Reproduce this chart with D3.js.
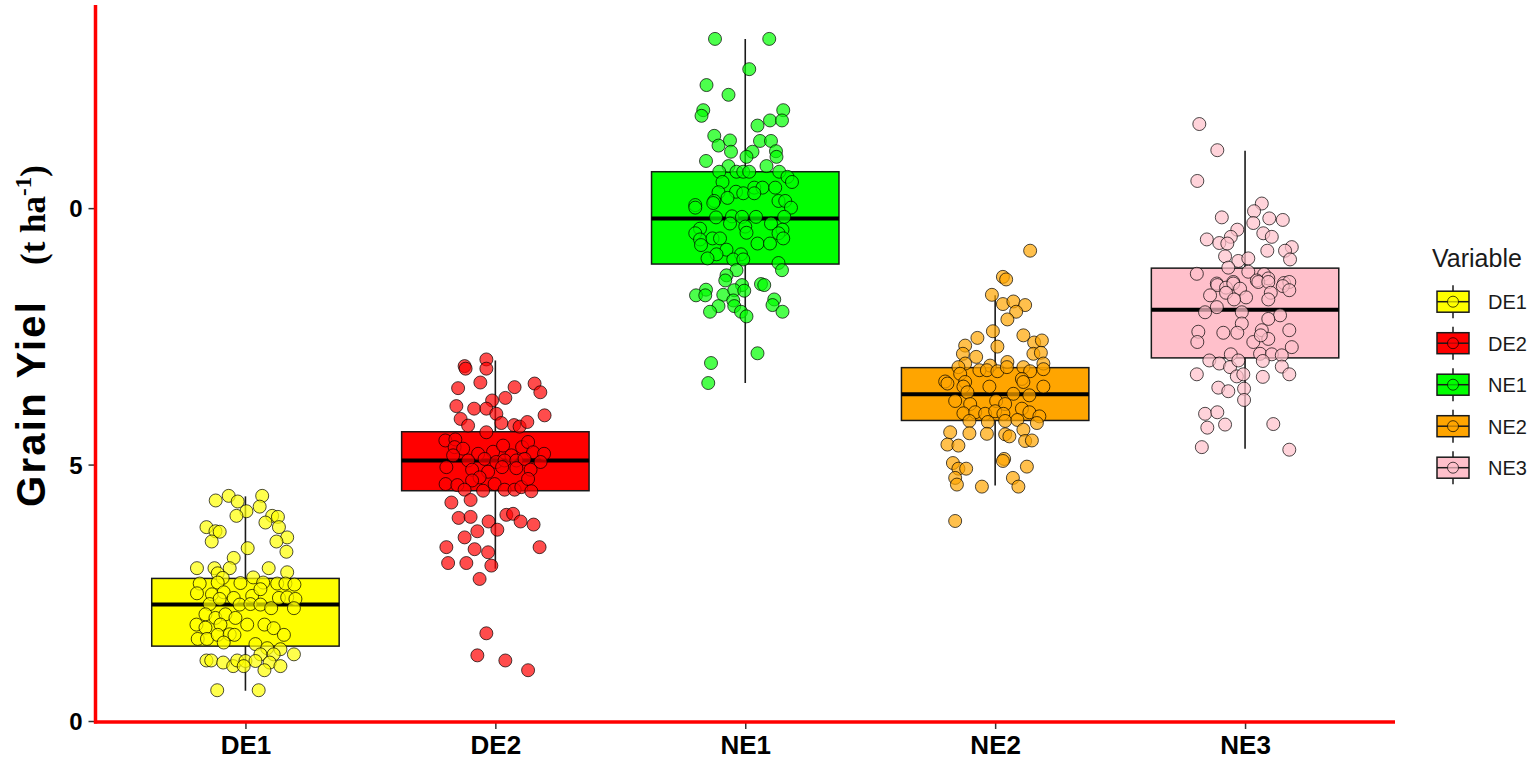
<!DOCTYPE html>
<html>
<head>
<meta charset="utf-8">
<script src="https://cdn.jsdelivr.net/npm/d3@7"></script>
<style>
  body { margin: 0; background: #fff; }
  svg { display: block; }
</style>
</head>
<body>
<div id="chart"></div>
<script>
// categories and fills
var categories = ["DE1", "DE2", "NE1", "NE2", "NE3"];
var fills = ["#FFFF00", "#FF0000", "#00FF00", "#FFA500", "#FFC0CB"];

// box statistics (t ha-1)
var boxLow  = [0.59, 2.97, 6.59, 4.59, 5.31];
var boxQ1   = [1.46, 4.49, 8.91, 5.86, 7.08];
var boxMed  = [2.27, 5.08, 9.80, 6.37, 8.02];
var boxQ3   = [2.78, 5.64, 10.71, 6.89, 8.83];
var boxHigh = [4.38, 7.03, 13.30, 8.30, 11.12];

var yTicks = [0, 5, 10];
var yTickLabels = ["0", "5", "0"];

// jittered observations: [horizontal jitter in category widths, yield]
var de1Points = [
  [-0.119,4.30],[-0.067,4.39],[-0.031,4.28],[0.067,4.39],[0.057,4.18],[0.004,4.09],[-0.036,4.00],[0.107,4.00],
  [0.130,3.98],[0.080,3.87],[0.134,3.78],[-0.156,3.78],[-0.120,3.70],[-0.103,3.69],[0.167,3.58],[-0.135,3.50],
  [0.124,3.50],[0.009,3.37],[0.164,3.30],[-0.047,3.18],[-0.194,2.98],[-0.124,2.98],[-0.063,2.98],[0.093,2.98],
  [-0.111,2.88],[0.167,2.90],[-0.091,2.79],[0.031,2.80],[-0.183,2.68],[-0.111,2.70],[-0.020,2.69],[0.071,2.70],
  [0.127,2.68],[0.160,2.68],[0.196,2.66],[-0.194,2.49],[-0.134,2.47],[-0.087,2.51],[-0.047,2.40],[0.027,2.44],
  [0.060,2.57],[0.134,2.40],[0.167,2.41],[0.200,2.38],[-0.143,2.28],[-0.103,2.38],[-0.023,2.27],[0.020,2.28],
  [0.060,2.27],[0.103,2.20],[0.194,2.20],[-0.160,2.08],[-0.120,2.01],[-0.080,2.08],[-0.040,2.01],[-0.196,1.88],
  [-0.160,1.82],[-0.100,1.88],[0.007,1.88],[0.076,1.88],[0.113,1.81],[0.154,1.68],[-0.191,1.60],[-0.154,1.60],
  [-0.111,1.68],[-0.063,1.69],[-0.044,1.68],[-0.087,1.53],[0.040,1.50],[0.087,1.42],[0.140,1.40],[0.194,1.30],
  [0.060,1.30],[0.113,1.30],[-0.156,1.18],[-0.137,1.18],[-0.089,1.14],[-0.049,1.07],[-0.033,1.18],[0.000,1.17],
  [0.040,1.17],[0.097,1.14],[0.140,1.07],[-0.007,1.07],[0.076,0.99],[-0.113,0.60],[0.053,0.60]
];
var de2Points = [
  [-0.036,7.05],[-0.123,6.92],[-0.119,6.87],[-0.036,6.87],[-0.060,6.60],[-0.149,6.49],[0.077,6.51],[0.157,6.58],
  [0.180,6.41],[0.040,6.30],[-0.013,6.25],[-0.156,6.14],[-0.085,6.09],[-0.036,6.09],[0.004,5.99],[0.197,5.96],
  [-0.139,5.89],[0.024,5.81],[-0.109,5.76],[0.075,5.77],[0.097,5.74],[0.128,5.83],[-0.036,5.63],[-0.200,5.47],
  [-0.160,5.49],[-0.163,5.34],[-0.129,5.31],[-0.069,5.21],[-0.169,5.18],[-0.009,5.25],[0.031,5.37],[0.064,5.18],
  [0.107,5.34],[0.131,5.44],[0.151,5.24],[0.195,5.21],[0.181,5.05],[-0.109,5.08],[-0.043,5.11],[0.004,5.05],
  [0.037,5.08],[0.084,5.08],[0.117,5.11],[-0.196,4.95],[-0.093,4.90],[-0.029,4.86],[0.027,4.95],[0.084,4.93],
  [0.141,4.90],[-0.063,4.75],[-0.093,4.69],[-0.199,4.62],[-0.152,4.60],[-0.123,4.51],[-0.049,4.49],[-0.003,4.62],
  [0.037,4.51],[0.077,4.51],[0.104,4.56],[0.131,4.72],[0.144,4.48],[-0.176,4.26],[-0.099,4.31],[-0.147,3.96],
  [-0.099,3.98],[0.044,4.02],[0.071,4.04],[0.101,3.89],[0.153,3.83],[-0.027,3.89],[0.008,3.73],[-0.072,3.70],
  [-0.123,3.58],[-0.196,3.39],[-0.083,3.35],[-0.029,3.29],[0.177,3.39],[-0.189,3.08],[-0.116,3.08],[-0.016,3.03],
  [-0.063,2.77],[-0.036,1.71],[-0.072,1.28],[0.040,1.18],[0.131,0.99]
];
var ne1Points = [
  [-0.121,13.30],[0.096,13.30],[0.016,12.71],[-0.155,12.40],[-0.067,12.21],[-0.168,11.91],[-0.175,11.80],[0.152,11.91],
  [0.099,11.71],[0.147,11.71],[0.049,11.61],[-0.124,11.41],[-0.107,11.22],[-0.061,11.32],[-0.057,11.10],[0.059,11.31],
  [0.103,11.31],[0.029,11.10],[0.123,11.11],[0.125,11.00],[0.005,11.00],[-0.157,10.92],[-0.067,10.82],[0.085,10.82],
  [-0.104,10.71],[-0.035,10.71],[-0.008,10.71],[0.016,10.71],[0.136,10.71],[0.169,10.61],[0.187,10.51],[-0.091,10.51],
  [0.036,10.40],[0.069,10.40],[0.120,10.40],[-0.107,10.31],[-0.037,10.32],[-0.008,10.29],[0.036,10.29],[-0.071,10.20],
  [-0.124,10.14],[-0.200,10.06],[0.133,10.14],[0.160,10.14],[-0.200,10.01],[-0.128,10.10],[0.183,10.01],
  [-0.117,9.82],[-0.053,9.84],[-0.013,9.83],[0.043,9.83],[0.156,9.83],[-0.061,9.70],[0.000,9.64],[0.103,9.70],
  [-0.181,9.60],[0.005,9.52],[0.149,9.58],[-0.200,9.51],[0.133,9.51],[-0.181,9.39],[-0.131,9.41],[-0.101,9.41],
  [0.152,9.41],[-0.177,9.28],[0.049,9.31],[0.099,9.31],[-0.075,9.19],[-0.115,9.10],[-0.017,9.10],[-0.151,9.02],
  [-0.048,9.00],[-0.008,9.00],[0.133,8.93],[0.147,8.79],[-0.035,8.79],[-0.075,8.69],[-0.080,8.59],[-0.013,8.50],
  [0.063,8.52],[0.076,8.50],[-0.157,8.41],[-0.197,8.30],[-0.160,8.30],[-0.088,8.31],[-0.044,8.40],[-0.004,8.39],
  [-0.048,8.20],[0.116,8.22],[0.109,8.11],[-0.107,8.09],[-0.141,7.98],[-0.044,8.09],[-0.017,7.98],[0.005,7.89],
  [0.149,7.98],[0.049,7.17],[-0.137,6.98],[-0.148,6.59]
];
var ne2Points = [
  [0.140,9.17],[0.031,8.66],[0.044,8.61],[-0.013,8.31],[0.031,8.13],[0.073,8.18],[0.120,8.11],[0.084,7.98],
  [0.049,7.83],[-0.009,7.60],[-0.071,7.47],[0.113,7.52],[0.156,7.38],[0.187,7.42],[-0.120,7.32],[0.009,7.30],
  [-0.129,7.16],[-0.076,7.10],[0.153,7.16],[0.183,7.18],[0.049,7.00],[-0.120,6.97],[-0.147,6.90],[-0.020,6.93],
  [0.193,6.97],[-0.063,6.84],[-0.033,6.84],[0.009,6.82],[0.047,6.90],[0.113,6.90],[0.140,6.82],[0.193,6.86],
  [-0.140,6.77],[-0.200,6.62],[0.107,6.67],[-0.120,6.61],[-0.191,6.58],[-0.127,6.52],[-0.023,6.52],[0.113,6.61],
  [0.193,6.52],[-0.111,6.41],[0.073,6.38],[0.137,6.35],[-0.160,6.24],[-0.100,6.18],[0.004,6.24],[0.040,6.18],
  [-0.127,6.00],[-0.080,6.02],[-0.040,5.99],[0.000,6.04],[0.033,5.99],[0.107,6.09],[0.137,6.02],[0.177,5.94],
  [-0.103,5.85],[-0.029,5.83],[0.040,5.85],[0.089,5.87],[0.167,5.81],[-0.180,5.63],[-0.103,5.61],[-0.033,5.60],
  [0.040,5.59],[0.057,5.55],[0.113,5.68],[-0.191,5.39],[-0.147,5.37],[0.120,5.46],[0.147,5.47],[0.036,5.11],
  [0.031,5.07],[-0.169,5.03],[-0.147,4.92],[-0.116,4.92],[0.127,4.96],[-0.160,4.74],[-0.153,4.61],[-0.053,4.57],
  [0.071,4.74],[0.093,4.57],[-0.160,3.90]
];
var ne3Points = [
  [-0.183,11.64],[-0.111,11.13],[-0.191,10.53],[0.067,10.09],[0.036,9.94],[-0.093,9.82],[0.097,9.80],[0.151,9.77],
  [0.033,9.71],[-0.031,9.58],[0.073,9.51],[0.107,9.44],[-0.153,9.39],[-0.057,9.44],[-0.103,9.32],[-0.071,9.31],
  [0.187,9.24],[0.160,9.17],[0.089,9.17],[0.180,9.00],[-0.080,9.06],[-0.027,8.97],[0.013,9.02],[-0.067,8.84],
  [-0.193,8.72],[0.013,8.76],[0.076,8.71],[0.093,8.63],[-0.113,8.53],[-0.047,8.56],[0.047,8.59],[0.156,8.54],
  [0.177,8.56],[-0.111,8.50],[-0.076,8.45],[-0.047,8.53],[-0.020,8.43],[0.053,8.56],[0.093,8.56],[0.151,8.48],
  [0.177,8.40],[0.103,8.35],[-0.140,8.30],[-0.076,8.35],[0.004,8.26],[-0.044,8.22],[0.093,8.22],[-0.113,8.07],
  [-0.160,7.97],[-0.013,7.97],[0.140,7.91],[0.093,7.84],[-0.013,7.75],[-0.187,7.59],[-0.087,7.57],[-0.031,7.57],
  [0.067,7.62],[0.177,7.62],[-0.191,7.39],[0.033,7.39],[0.093,7.45],[0.063,7.52],[0.187,7.29],[0.060,7.16],
  [0.107,7.15],[0.147,7.13],[-0.057,7.15],[-0.143,7.03],[-0.103,6.97],[-0.060,6.90],[-0.027,7.03],[0.071,7.02],
  [0.147,6.91],[-0.193,6.76],[-0.033,6.72],[-0.007,6.76],[0.071,6.71],[0.177,6.76],[-0.107,6.50],[-0.067,6.43],
  [-0.004,6.48],[-0.004,6.26],[-0.160,5.99],[-0.111,6.02],[-0.080,5.78],[-0.151,5.72],[0.113,5.79],[-0.173,5.34],
  [0.177,5.29]
];
var groupPoints = [de1Points, de2Points, ne1Points, ne2Points, ne3Points];

var width = 1535, height = 764;
var plotLeft = 95.5, plotRight = 1395, plotTop = 3, plotBottom = 721;

var svg = d3.select("#chart").append("svg")
    .attr("width", width)
    .attr("height", height)
    .style("font-family", "'Liberation Sans', Arial, sans-serif");

var x = d3.scalePoint()
    .domain(categories)
    .range([plotLeft, plotRight])
    .padding(0.6);
var step = x.step();
var boxW = 0.75 * step;

var y = d3.scaleLinear()
    .domain([0, 14])
    .range([plotBottom, plotTop]);

var color = d3.scaleOrdinal().domain(categories).range(fills);

// boxes
var boxes = svg.append("g").attr("class", "boxes")
  .selectAll("g")
  .data(categories)
  .enter().append("g");

boxes.append("line")
    .attr("x1", function(d) { return x(d); })
    .attr("x2", function(d) { return x(d); })
    .attr("y1", function(d, i) { return y(boxHigh[i]); })
    .attr("y2", function(d, i) { return y(boxLow[i]); })
    .style("stroke", "#1a1a1a")
    .style("stroke-width", "1.6px");

boxes.append("rect")
    .attr("x", function(d) { return x(d) - boxW / 2; })
    .attr("y", function(d, i) { return y(boxQ3[i]); })
    .attr("width", boxW)
    .attr("height", function(d, i) { return y(boxQ1[i]) - y(boxQ3[i]); })
    .style("fill", function(d) { return color(d); })
    .style("stroke", "#1a1a1a")
    .style("stroke-width", "1.5px");

boxes.append("line")
    .attr("x1", function(d) { return x(d) - boxW / 2; })
    .attr("x2", function(d) { return x(d) + boxW / 2; })
    .attr("y1", function(d, i) { return y(boxMed[i]); })
    .attr("y2", function(d, i) { return y(boxMed[i]); })
    .style("stroke", "#000")
    .style("stroke-width", "4px");

// jittered points
categories.forEach(function(cat, i) {
  svg.append("g").attr("class", "pts_" + cat)
    .selectAll("circle")
    .data(groupPoints[i])
    .enter().append("circle")
    .attr("cx", function(d) { return x(cat) + d[0] * step; })
    .attr("cy", function(d) { return y(d[1]); })
    .attr("r", 6.5)
    .style("fill", color(cat))
    .style("fill-opacity", 0.7)
    .style("stroke", "#000")
    .style("stroke-opacity", 0.7)
    .style("stroke-width", "1px");
});

// axes
var yAxis = svg.append("g")
    .attr("transform", "translate(" + plotLeft + ",0)")
    .call(d3.axisLeft(y).tickValues(yTicks).tickSize(7).tickPadding(6)
      .tickFormat(function(d, i) { return yTickLabels[i]; }));
var xAxis = svg.append("g")
    .attr("transform", "translate(0," + (plotBottom + 1) + ")")
    .call(d3.axisBottom(x).tickSize(7).tickPadding(5));

[yAxis, xAxis].forEach(function(ax) {
  ax.select(".domain").remove();
  ax.selectAll(".tick line").style("stroke", "#333").style("stroke-width", "1.5px");
  ax.selectAll(".tick text")
    .style("fill", "#000")
    .style("font-weight", "bold")
    .style("font-family", "'Liberation Sans', Arial, sans-serif");
});
yAxis.selectAll(".tick text").style("font-size", "24px").attr("dy", "0.36em");
xAxis.selectAll(".tick text").style("font-size", "26px").attr("dy", "0.78em");

// red axis lines
svg.append("line")
    .attr("x1", plotLeft).attr("x2", plotLeft)
    .attr("y1", plotTop + 2).attr("y2", plotBottom + 2.5)
    .style("stroke", "#FF0000").style("stroke-width", "3.5px");
svg.append("line")
    .attr("x1", plotLeft - 1.5).attr("x2", plotRight)
    .attr("y1", plotBottom + 1).attr("y2", plotBottom + 1)
    .style("stroke", "#FF0000").style("stroke-width", "3.5px");

// y title
svg.append("text")
    .attr("transform", "translate(45,507) rotate(-90)")
    .style("font-family", "'Liberation Sans', Arial, sans-serif")
    .style("font-weight", "bold")
    .style("font-size", "40px")
    .attr("textLength", 205)
    .attr("lengthAdjust", "spacing")
    .text("Grain Yiel");

var unit = svg.append("text")
    .attr("transform", "translate(45,265) rotate(-90)")
    .style("font-family", "'Liberation Serif', 'Times New Roman', serif")
    .style("font-weight", "bold")
    .style("font-size", "35px");
unit.append("tspan").text("(t ha");
unit.append("tspan").attr("dy", -14).style("font-size", "23px").text("-1");
unit.append("tspan").attr("dy", 14).text(")");

// legend
var legend = svg.append("g").attr("transform", "translate(1430,0)");
legend.append("text")
    .attr("x", 2).attr("y", 267)
    .style("font-size", "25px")
    .style("fill", "#1a1a1a")
    .text("Variable");

var keyY = d3.scalePoint().domain(categories).range([301.7, 467.7]);
var keys = legend.selectAll(".key")
    .data(categories)
    .enter().append("g")
    .attr("class", "key")
    .attr("transform", function(d) { return "translate(0," + keyY(d) + ")"; });

keys.append("line")
    .attr("x1", 23).attr("x2", 23).attr("y1", -16.5).attr("y2", 16.5)
    .style("stroke", "#1a1a1a").style("stroke-width", "1.5px");
keys.append("rect")
    .attr("x", 7).attr("y", -10.5).attr("width", 32).attr("height", 21)
    .style("fill", function(d) { return color(d); })
    .style("stroke", "#1a1a1a").style("stroke-width", "1.5px");
keys.append("line")
    .attr("x1", 7).attr("x2", 39).attr("y1", 0).attr("y2", 0)
    .style("stroke", "#1a1a1a").style("stroke-width", "1.5px");
keys.append("circle")
    .attr("cx", 23).attr("cy", 0).attr("r", 5.5)
    .style("fill", function(d) { return color(d); })
    .style("fill-opacity", 0.7)
    .style("stroke", "#000").style("stroke-opacity", 0.7)
    .style("stroke-width", "1px");
keys.append("text")
    .attr("x", 58).attr("y", 7.5)
    .style("font-size", "20px")
    .style("fill", "#1a1a1a")
    .text(function(d) { return d; });
</script>
</body>
</html>
